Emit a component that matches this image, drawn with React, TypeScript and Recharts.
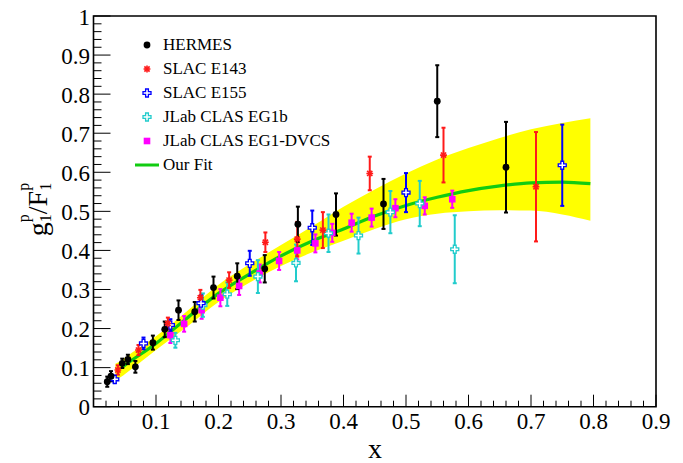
import React from 'react';
import {
  ComposedChart,
  XAxis,
  YAxis,
  Area,
  Line,
  Scatter,
  ErrorBar,
  ReferenceArea,
  Legend,
} from 'recharts';

const FONT = "'Liberation Serif', 'Times New Roman', 'DejaVu Serif', serif";

// ---- data ----
const hermesX = [0.022, 0.028, 0.046, 0.055, 0.067, 0.095, 0.114, 0.136, 0.162, 0.192, 0.230, 0.274, 0.327, 0.388, 0.464, 0.550, 0.660];
const hermesY = [0.064, 0.078, 0.111, 0.121, 0.102, 0.164, 0.198, 0.247, 0.243, 0.305, 0.334, 0.353, 0.467, 0.492, 0.519, 0.782, 0.613];
const hermesErr = [0.013, 0.013, 0.012, 0.012, 0.015, 0.018, 0.02, 0.025, 0.025, 0.028, 0.033, 0.035, 0.045, 0.054, 0.064, 0.092, 0.116];

const e143X = [0.039, 0.072, 0.119, 0.171, 0.217, 0.275, 0.326, 0.367, 0.442, 0.560, 0.708];
const e143Y = [0.094, 0.145, 0.213, 0.279, 0.324, 0.421, 0.429, 0.452, 0.597, 0.644, 0.563];
const e143Err = [0.012, 0.013, 0.015, 0.02, 0.02, 0.025, 0.044, 0.046, 0.043, 0.07, 0.14];

const e155X = [0.034, 0.080, 0.123, 0.172, 0.250, 0.350, 0.500, 0.750];
const e155Y = [0.070, 0.162, 0.209, 0.265, 0.367, 0.458, 0.548, 0.618];
const e155Err = [0.01, 0.015, 0.015, 0.02, 0.032, 0.044, 0.05, 0.104];

const eg1bX = [0.131, 0.175, 0.214, 0.263, 0.324, 0.376, 0.424, 0.475, 0.522, 0.578];
const eg1bY = [0.170, 0.260, 0.288, 0.333, 0.368, 0.444, 0.438, 0.498, 0.520, 0.403];
const eg1bErr = [0.019, 0.03, 0.03, 0.042, 0.047, 0.048, 0.046, 0.054, 0.058, 0.087];

const dvcsX = [0.123, 0.145, 0.173, 0.203, 0.233, 0.266, 0.297, 0.326, 0.355, 0.382, 0.413, 0.445, 0.483, 0.530, 0.574];
const dvcsY = [0.183, 0.212, 0.247, 0.279, 0.309, 0.341, 0.373, 0.400, 0.418, 0.445, 0.471, 0.484, 0.508, 0.514, 0.531];
const dvcsErr = [0.02, 0.02, 0.022, 0.022, 0.023, 0.023, 0.023, 0.023, 0.023, 0.023, 0.023, 0.023, 0.023, 0.022, 0.022];

const fitX = [0.035, 0.045, 0.05, 0.1, 0.15, 0.2, 0.25, 0.3, 0.35, 0.4, 0.45, 0.5, 0.55, 0.6, 0.65, 0.7, 0.75, 0.795];
const fitY = [null, 0.100, 0.106, 0.162, 0.227, 0.290, 0.340, 0.386, 0.424, 0.455, 0.488, 0.515, 0.536, 0.553, 0.565, 0.573, 0.575, 0.571];
const bandLow = [0.068, 0.077, 0.083, 0.145, 0.205, 0.268, 0.318, 0.360, 0.395, 0.425, 0.455, 0.480, 0.494, 0.500, 0.503, 0.502, 0.492, 0.476];
const bandHigh = [0.110, 0.119, 0.125, 0.180, 0.245, 0.312, 0.365, 0.414, 0.462, 0.512, 0.556, 0.597, 0.633, 0.662, 0.688, 0.710, 0.726, 0.738];

const xMajorLabels = ['0.1', '0.2', '0.3', '0.4', '0.5', '0.6', '0.7', '0.8', '0.9'];
const yMajorLabels = ['0', '0.1', '0.2', '0.3', '0.4', '0.5', '0.6', '0.7', '0.8', '0.9', '1'];

const seriesNames = ['HERMES', 'SLAC E143', 'SLAC E155', 'JLab CLAS EG1b', 'JLab CLAS EG1-DVCS', 'Our Fit'];

const zip = (xs: number[], ys: number[], es: number[]) => xs.map((x, i) => ({ x, y: ys[i], err: es[i] }));

const hermes = zip(hermesX, hermesY, hermesErr);
const e143 = zip(e143X, e143Y, e143Err);
const e155 = zip(e155X, e155Y, e155Err);
const eg1b = zip(eg1bX, eg1bY, eg1bErr);
const dvcs = zip(dvcsX, dvcsY, dvcsErr);
const curve = fitX.map((x, i) => ({ x, fit: fitY[i], band: [bandLow[i], bandHigh[i]] }));

const xTicks = Array.from({ length: 46 }, (_, i) => Math.round(i * 2) / 100);
const yTicks = Array.from({ length: 51 }, (_, i) => Math.round(i * 2) / 100);

const isMajor = (v: number) => Math.abs(v * 10 - Math.round(v * 10)) < 1e-6;

const C_BLACK = '#000000';
const C_RED = '#ff1a1a';
const C_BLUE = '#0000ff';
const C_CYAN = '#22cccc';
const C_MAG = '#ff00ff';
const C_GREEN = '#11cc11';
const C_YELLOW = '#ffff00';

// ---- markers ----
const Dot = ({ cx, cy }: any) => <circle cx={cx} cy={cy} r={3.4} fill={C_BLACK} />;
const Star = ({ cx, cy }: any) => (
  <g stroke={C_RED} strokeWidth={1.6}>
    <line x1={cx - 3.4} x2={cx + 3.4} y1={cy} y2={cy} />
    <line x1={cx} x2={cx} y1={cy - 3.4} y2={cy + 3.4} />
    <line x1={cx - 2.6} x2={cx + 2.6} y1={cy - 2.6} y2={cy + 2.6} />
    <line x1={cx - 2.6} x2={cx + 2.6} y1={cy + 2.6} y2={cy - 2.6} />
  </g>
);
const OpenCross = ({ cx, cy, color }: any) => {
  const a = 1.4;
  const L = 4;
  const d = `M${cx - a},${cy - L}H${cx + a}V${cy - a}H${cx + L}V${cy + a}H${cx + a}V${cy + L}H${cx - a}V${cy + a}H${cx - L}V${cy - a}H${cx - a}Z`;
  return <path d={d} fill="#ffffff" stroke={color} strokeWidth={1.3} />;
};
const Square = ({ cx, cy }: any) => <rect x={cx - 3.3} y={cy - 3.3} width={6.6} height={6.6} fill={C_MAG} />;

// ---- axis ticks (drawn inward, ROOT style) ----
const XTick = (props: any) => {
  const { x, y, payload } = props;
  const v = payload.value;
  const major = isMajor(v);
  const idx = Math.round(v * 10) - 1;
  return (
    <g>
      <line x1={x} x2={x} y1={y} y2={y - (major ? 12 : 6)} stroke="#000" strokeWidth={1} />
      {major && idx >= 0 && (
        <text x={x} y={y + 22} textAnchor="middle" fontFamily={FONT} fontSize={23} fill="#000">
          {xMajorLabels[idx]}
        </text>
      )}
    </g>
  );
};

const YTick = (props: any) => {
  const { x, y, payload } = props;
  const v = payload.value;
  const major = isMajor(v);
  const idx = Math.round(v * 10);
  return (
    <g>
      <line x1={x} x2={x + (major ? 17 : 8)} y1={y} y2={y} stroke="#000" strokeWidth={1} />
      {major && (
        <text x={x - 3.5} y={y + 8.5} textAnchor="end" fontFamily={FONT} fontSize={23} fill="#000">
          {yMajorLabels[idx]}
        </text>
      )}
    </g>
  );
};

const YTitle = () => {
  const cx = 46.7;
  const cy = 209.5;
  return (
    <text
      x={cx}
      y={cy}
      transform={`rotate(-90, ${cx}, ${cy})`}
      textAnchor="middle"
      fontFamily={FONT}
      fontSize={28}
      fill="#000"
    >
      g
      <tspan fontSize={16} dy={-18}>p</tspan>
      <tspan fontSize={16} dx={-8} dy={22}>1</tspan>
      <tspan fontSize={28} dy={-4}>/F</tspan>
      <tspan fontSize={16} dy={-18}>p</tspan>
      <tspan fontSize={16} dx={-8} dy={22}>1</tspan>
    </text>
  );
};

const XTitle = () => (
  <text x={375} y={457.5} textAnchor="middle" fontFamily={FONT} fontSize={28} fill="#000">
    x
  </text>
);

const LegendMarker = ({ i }: { i: number }) => {
  const cx = 15;
  const cy = 12;
  let m: any = null;
  if (i === 0) m = <Dot cx={cx} cy={cy} />;
  if (i === 1) m = <Star cx={cx} cy={cy} />;
  if (i === 2) m = <OpenCross cx={cx} cy={cy} color={C_BLUE} />;
  if (i === 3) m = <OpenCross cx={cx} cy={cy} color={C_CYAN} />;
  if (i === 4) m = <Square cx={cx} cy={cy} />;
  if (i === 5) m = <line x1={3} x2={27} y1={cy} y2={cy} stroke={C_GREEN} strokeWidth={3} />;
  return (
    <svg width={30} height={24} style={{ display: 'block' }}>
      {m}
    </svg>
  );
};

const LegendBox = () => (
  <div style={{ fontFamily: FONT, fontSize: 17, color: '#000' }}>
    {seriesNames.map((n, i) => (
      <div key={n} style={{ display: 'flex', alignItems: 'center', height: 24, whiteSpace: 'nowrap' }}>
        <LegendMarker i={i} />
        <span style={{ marginLeft: 1, lineHeight: '24px' }}>{n}</span>
      </div>
    ))}
  </div>
);

export default function App() {
  return (
    <div style={{ marginTop: -8, marginLeft: -8, width: 683, height: 463 }}>
      <ComposedChart
        width={683}
        height={463}
        data={curve}
        margin={{ top: 16, right: 27, bottom: 0, left: 0 }}
        style={{ background: '#fff' }}
      >
        <XAxis
          type="number"
          dataKey="x"
          domain={[0, 0.9]}
          ticks={xTicks}
          interval={0}
          tick={<XTick />}
          tickLine={false}
          axisLine={false}
          tickSize={0}
          tickMargin={0}
          height={56.3}
          allowDataOverflow
          label={<XTitle />}
        />
        <YAxis
          type="number"
          domain={[0, 1]}
          ticks={yTicks}
          interval={0}
          tick={<YTick />}
          tickLine={false}
          axisLine={false}
          tickSize={0}
          tickMargin={0}
          width={93.5}
          allowDataOverflow
          label={<YTitle />}
        />
        <ReferenceArea x1={0} x2={0.9} y1={0} y2={1} fill="none" fillOpacity={0} stroke="#000" strokeWidth={1.6} />
        <Area
          type="monotone"
          dataKey="band"
          fill={C_YELLOW}
          fillOpacity={1}
          stroke="none"
          isAnimationActive={false}
          activeDot={false}
        />
        <Line
          type="monotone"
          dataKey="fit"
          stroke={C_GREEN}
          strokeWidth={3.2}
          dot={false}
          activeDot={false}
          isAnimationActive={false}
        />
        <Scatter data={dvcs} dataKey="y" isAnimationActive={false} shape={(p: any) => <Square cx={p.cx} cy={p.cy} />}>
          <ErrorBar dataKey="err" direction="y" stroke={C_MAG} strokeWidth={2} width={2} />
        </Scatter>
        <Scatter data={eg1b} dataKey="y" isAnimationActive={false} shape={(p: any) => <OpenCross cx={p.cx} cy={p.cy} color={C_CYAN} />}>
          <ErrorBar dataKey="err" direction="y" stroke={C_CYAN} strokeWidth={2} width={2} />
        </Scatter>
        <Scatter data={e155} dataKey="y" isAnimationActive={false} shape={(p: any) => <OpenCross cx={p.cx} cy={p.cy} color={C_BLUE} />}>
          <ErrorBar dataKey="err" direction="y" stroke={C_BLUE} strokeWidth={2} width={2} />
        </Scatter>
        <Scatter data={e143} dataKey="y" isAnimationActive={false} shape={(p: any) => <Star cx={p.cx} cy={p.cy} />}>
          <ErrorBar dataKey="err" direction="y" stroke={C_RED} strokeWidth={2} width={2} />
        </Scatter>
        <Scatter data={hermes} dataKey="y" isAnimationActive={false} shape={(p: any) => <Dot cx={p.cx} cy={p.cy} />}>
          <ErrorBar dataKey="err" direction="y" stroke={C_BLACK} strokeWidth={2} width={2} />
        </Scatter>
        <Legend
          layout="horizontal"
          verticalAlign="middle"
          align="center"
          content={() => <LegendBox />}
          wrapperStyle={{ position: 'absolute', left: 132, top: 33, width: 260, height: 144 }}
        />
      </ComposedChart>
    </div>
  );
}
